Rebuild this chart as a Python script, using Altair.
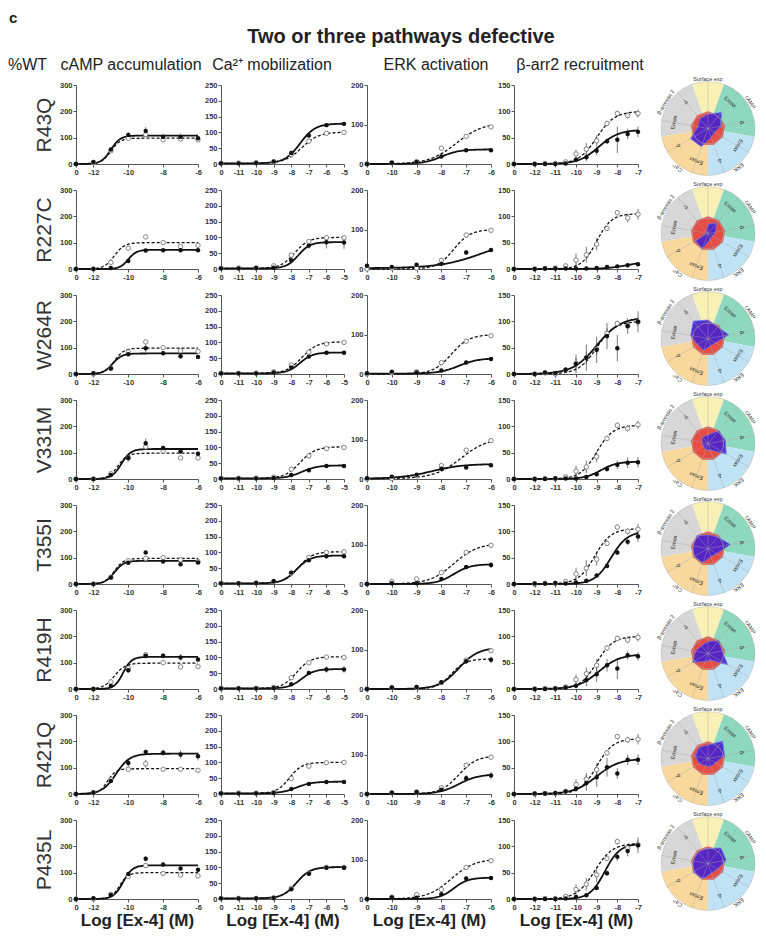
import altair as alt
import pandas as pd

FONT = "Liberation Sans"

MUTANTS = ["R43Q", "R227C", "W264R", "V331M", "T355I", "R419H", "R421Q", "P435L"]
HEADERS = ["cAMP accumulation", "Ca²⁺ mobilization", "ERK activation", "β-arr2 recruitment"]
HEADER_X = [55, 196, 360, 504]

# log[Ex-4] (M); the first value of each list is the vehicle point, labelled "0"
CAMP_X = [-13, -12, -11, -10, -9, -8, -7, -6]
CA_X = [-12, -11, -10, -9, -8, -7, -6, -5]
ERK_X = [-11, -10, -9, -8, -7, -6]
BARR_X = [-13, -12, -11.5, -11, -10.5, -10, -9.5, -9, -8.5, -8, -7.5, -7]

# ---- cAMP accumulation (%WT)
CAMP_WT = [
    [0, 5, 50, 98, 112, 92, 95, 92],
    [0, 0, 25, 79, 122, 100, 85, 90],
    [0, 0, 22, 84, 122, 100, 88, 86],
    [0, 0, 20, 80, 122, 106, 80, 80],
    [0, 0, 25, 88, 97, 100, 92, 85],
    [0, 0, 27, 79, 130, 100, 84, 85],
    [0, 5, 55, 94, 115, 94, 94, 90],
    [0, 0, 18, 86, 127, 97, 91, 88],
]
CAMP_MUT = [
    [0, 8, 55, 110, 125, 103, 103, 98],
    [0, 0, 4, 30, 70, 71, 71, 71],
    [0, 3, 21, 75, 98, 79, 67, 65],
    [0, 0, 15, 80, 136, 118, 105, 96],
    [0, 0, 25, 81, 120, 85, 75, 82],
    [0, 0, 11, 71, 126, 126, 120, 112],
    [0, 6, 49, 118, 160, 157, 150, 143],
    [0, 3, 15, 95, 153, 131, 116, 111],
]
CAMP_WT_ERR = [
    [0, 2, 4, 6, 8, 5, 6, 6], [0, 2, 4, 6, 6, 5, 6, 6], [0, 2, 4, 6, 8, 5, 6, 6],
    [0, 2, 4, 6, 8, 5, 6, 6], [0, 2, 4, 6, 6, 5, 6, 6], [0, 2, 4, 6, 8, 5, 6, 6],
    [0, 2, 4, 6, 15, 5, 6, 6], [0, 2, 4, 6, 8, 5, 6, 6],
]
CAMP_MUT_ERR = [
    [0, 3, 6, 12, 15, 12, 12, 8], [0, 0, 2, 4, 5, 5, 5, 5], [0, 2, 4, 6, 15, 8, 8, 6],
    [0, 0, 5, 15, 18, 8, 10, 8], [0, 0, 4, 5, 5, 5, 6, 5], [0, 0, 4, 10, 10, 10, 12, 8],
    [0, 3, 6, 15, 8, 12, 15, 15], [0, 2, 4, 6, 10, 6, 6, 8],
]
# fitted curves: (bottom, top, logEC50, Hill slope)
CAMP_FIT_WT = [(0, 98, -11.0, 1.6), (0, 100, -10.8, 1.5), (0, 98, -10.8, 1.6), (0, 98, -10.6, 1.6),
               (0, 97, -10.8, 1.6), (0, 98, -10.8, 1.4), (0, 96, -11.2, 1.8), (0, 100, -10.5, 1.8)]
CAMP_FIT_MUT = [(0, 108, -11.0, 1.6), (0, 73, -10.0, 1.8), (0, 78, -10.9, 1.6), (0, 114, -10.4, 1.6),
                (0, 88, -10.8, 1.6), (0, 122, -10.3, 1.8), (0, 153, -10.7, 1.1), (0, 128, -10.3, 1.6)]

# ---- Ca2+ mobilization (%WT)
CA_WT = [
    [2, 3, 4, 6, 30, 72, 97, 100],
    [2, 3, 3, 10, 44, 87, 99, 99],
    [2, 2, 3, 7, 28, 69, 95, 100],
    [2, 2, 3, 6, 31, 73, 96, 100],
    [2, 2, 3, 8, 34, 84, 100, 102],
    [2, 2, 2, 5, 36, 83, 101, 100],
    [2, 3, 3, 5, 49, 88, 99, 100],
    [2, 2, 2, 4, 34, 81, 100, 100],
]
CA_MUT = [
    [2, 2, 3, 8, 35, 90, 123, 127],
    [2, 2, 3, 4, 28, 74, 85, 84],
    [2, 2, 2, 5, 21, 55, 67, 67],
    [2, 2, 2, 3, 13, 28, 41, 41],
    [2, 2, 3, 9, 36, 75, 88, 88],
    [2, 2, 2, 3, 15, 51, 62, 62],
    [2, 2, 2, 3, 16, 32, 38, 38],
    [2, 2, 2, 3, 31, 80, 99, 99],
]
CA_WT_ERR = [
    [0, 0, 0, 2, 6, 8, 4, 4], [0, 0, 0, 2, 6, 6, 4, 4], [0, 0, 0, 2, 5, 6, 4, 4],
    [0, 0, 0, 2, 5, 8, 4, 4], [0, 0, 0, 2, 5, 6, 4, 4], [0, 0, 0, 2, 5, 6, 4, 4],
    [0, 0, 0, 2, 5, 6, 4, 4], [0, 0, 0, 2, 5, 6, 4, 4],
]
CA_MUT_ERR = [
    [0, 0, 0, 2, 8, 5, 5, 5], [0, 0, 0, 2, 6, 10, 20, 20], [0, 0, 0, 2, 4, 5, 4, 4],
    [0, 0, 0, 1, 3, 3, 4, 5], [0, 0, 0, 2, 4, 5, 5, 4], [0, 0, 0, 1, 3, 6, 10, 10],
    [0, 0, 0, 1, 3, 3, 3, 3], [0, 0, 0, 2, 5, 8, 5, 8],
]
CA_FIT_WT = [(2, 101, -7.4, 0.9), (2, 100, -7.8, 1.1), (2, 102, -7.4, 1.0), (2, 102, -7.5, 1.0),
             (2, 102, -7.6, 1.1), (2, 102, -7.7, 1.1), (2, 100, -8.1, 1.2), (2, 101, -7.7, 1.1)]
CA_FIT_MUT = [(2, 128, -7.5, 1.0), (2, 85, -7.6, 1.3), (2, 68, -7.5, 1.2), (2, 43, -7.4, 1.0),
              (2, 90, -7.7, 1.1), (2, 63, -7.4, 1.2), (2, 39, -7.7, 1.0), (2, 101, -7.7, 1.1)]

# ---- ERK activation (%WT)
ERK_WT = [
    [0, 3, 6, 40, 70, 94],
    [0, 2, 2, 22, 86, 98],
    [0, 3, 6, 29, 83, 97],
    [0, 1, 8, 34, 73, 97],
    [0, 6, 13, 29, 80, 98],
    [0, 3, 4, 16, 73, 97],
    [0, 3, 5, 16, 73, 93],
    [0, 5, 11, 24, 80, 97],
]
ERK_MUT = [
    [0, 3, 5, 19, 35, 35],
    [8, 5, 11, 13, 42, 48],
    [2, 6, 4, 9, 29, 38],
    [2, 6, 11, 26, 29, 35],
    [0, 2, 2, 13, 43, 48],
    [0, 4, 5, 17, 70, 74],
    [0, 3, 5, 11, 40, 47],
    [0, 4, 3, 12, 52, 53],
]
ERK_WT_ERR = [
    [0, 1, 2, 4, 4, 3], [0, 1, 2, 3, 4, 3], [0, 1, 2, 3, 4, 3], [0, 1, 2, 4, 4, 3],
    [0, 1, 2, 3, 4, 3], [0, 1, 2, 3, 6, 3], [0, 1, 2, 3, 4, 3], [0, 1, 2, 3, 4, 3],
]
ERK_MUT_ERR = [
    [0, 1, 2, 4, 4, 4], [0, 2, 3, 6, 6, 4], [0, 2, 2, 3, 4, 4], [0, 2, 3, 4, 3, 4],
    [0, 1, 1, 3, 5, 8], [0, 1, 1, 4, 6, 8], [0, 1, 1, 3, 8, 8], [0, 1, 1, 3, 5, 4],
]
ERK_FIT_WT = [(0, 105, -7.4, 0.8), (0, 100, -7.5, 1.3), (0, 100, -7.6, 1.2), (1, 105, -7.2, 0.8),
              (0, 103, -7.5, 0.9), (0, 76, -7.6, 1.5), (0, 97, -7.3, 1.2), (0, 102, -7.6, 0.9)]
ERK_FIT_MUT = [(0, 37, -8.0, 1.2), (2, 80, -6.3, 0.5), (1, 40, -7.3, 1.1), (1, 38, -8.4, 0.7),
               (0, 50, -7.5, 1.3), (0, 105, -7.3, 1.1), (0, 50, -7.3, 1.1), (0, 54, -7.5, 1.5)]

# ---- beta-arrestin 2 recruitment (%WT)
BARR_WT = [
    [0, 0, 1, 1, 4, 19, 28, 44, 77, 96, 92, 96],
    [0, 0, 1, 2, 6, 17, 27, 47, 77, 107, 97, 104],
    [0, 0, 2, 0, 8, 20, 31, 47, 77, 96, 91, 99],
    [0, 0, 1, 1, 4, 15, 23, 42, 77, 102, 96, 103],
    [0, 0, 1, 1, 5, 19, 30, 47, 77, 108, 100, 104],
    [0, 0, 1, 1, 4, 18, 29, 45, 78, 96, 93, 98],
    [0, 0, 1, 1, 5, 18, 28, 46, 78, 109, 103, 104],
    [0, 0, 1, 1, 5, 18, 28, 46, 77, 109, 97, 103],
]
BARR_MUT = [
    [0, 0, 0, 0, 1, 8, 13, 25, 43, 46, 57, 61],
    [0, 0, 1, 1, 1, 1, 1, 2, 4, 5, 7, 9],
    [0, 0, 3, 2, 8, 19, 31, 46, 72, 49, 91, 99],
    [0, 0, 0, 1, 1, 1, 4, 9, 19, 27, 31, 32],
    [0, 1, 1, 2, 1, 3, 6, 16, 34, 60, 80, 90],
    [0, 0, 0, 1, 3, 6, 17, 28, 45, 39, 64, 62],
    [0, 1, 1, 2, 5, 10, 21, 32, 51, 39, 65, 65],
    [0, 0, 0, 0, 1, 4, 7, 21, 49, 80, 91, 102],
]
BARR_WT_ERR = [
    [0, 0, 0, 0, 3, 8, 12, 10, 5, 5, 6, 8], [0, 0, 0, 0, 3, 12, 15, 12, 5, 5, 8, 10],
    [0, 0, 0, 0, 3, 10, 12, 10, 10, 5, 6, 8], [0, 0, 0, 0, 3, 10, 12, 10, 5, 5, 6, 8],
    [0, 0, 0, 0, 3, 12, 15, 12, 5, 5, 6, 10], [0, 0, 0, 0, 3, 10, 12, 12, 5, 5, 6, 8],
    [0, 0, 0, 0, 3, 10, 12, 12, 5, 5, 6, 10], [0, 0, 0, 0, 3, 10, 12, 15, 5, 5, 6, 8],
]
BARR_MUT_ERR = [
    [0, 0, 0, 0, 2, 5, 8, 8, 5, 25, 10, 10], [0, 0, 0, 0, 0, 1, 1, 1, 1, 2, 2, 2],
    [0, 0, 0, 0, 4, 18, 25, 25, 25, 25, 15, 20], [0, 0, 0, 0, 0, 1, 2, 3, 5, 8, 10, 10],
    [0, 0, 0, 0, 0, 1, 2, 3, 4, 5, 6, 10], [0, 0, 0, 0, 2, 5, 12, 15, 12, 20, 8, 8],
    [0, 0, 0, 0, 3, 6, 15, 18, 18, 10, 10, 10], [0, 0, 0, 0, 1, 2, 3, 4, 5, 8, 10, 15],
]
BARR_FIT_WT = [(0, 100, -9.0, 1.0), (0, 105, -9.0, 1.2), (0, 100, -9.0, 1.0), (0, 102, -9.0, 1.1),
               (0, 105, -9.1, 1.1), (0, 100, -9.0, 1.1), (0, 105, -9.0, 1.1), (0, 106, -9.1, 1.0)]
BARR_FIT_MUT = [(0, 65, -8.9, 0.9), (0, 15, -7.5, 0.8), (0, 108, -9.0, 0.75), (0, 33, -8.8, 1.1),
                (0, 100, -8.3, 1.1), (0, 66, -8.9, 0.85), (0, 67, -9.0, 0.8), (0, 105, -8.6, 1.2)]

# ---- radar (relative to WT = 1)
RADAR_ANGLES = [0, 40, 80, 120, 160, 200, 240, 280, 320]
RADAR_WT = [1.0, 1.0, 1.0, 1.0, 1.0, 1.0, 1.0, 1.0, 1.0]
RADAR_MUT = [
    [0.85, 1.25, 0.75, 0.45, 0.55, 1.15, 1.2, 0.6, 0.75],
    [0.55, 0.8, 0.45, 0.3, 0.35, 1.0, 0.85, 0.1, 0.15],
    [1.1, 0.9, 1.25, 0.5, 0.45, 0.75, 0.7, 1.05, 1.35],
    [0.5, 1.0, 1.05, 1.25, 0.4, 0.4, 0.3, 0.35, 0.5],
    [0.8, 0.9, 1.35, 0.6, 0.5, 0.9, 0.95, 0.9, 1.0],
    [0.7, 1.0, 0.85, 1.35, 0.4, 0.5, 1.05, 0.75, 0.6],
    [0.8, 1.35, 1.0, 0.5, 0.5, 0.45, 0.6, 0.75, 0.85],
    [0.9, 1.2, 1.1, 0.65, 0.6, 1.0, 1.0, 0.9, 0.9],
]
RADAR_FULL = 2.8
INNER_ANGLES = [40, 80, 120, 160, 200, 240, 280, 320]
INNER_TEXT = ["Emax", "Δ", "Emax", "Δ", "Emax", "Δ", "Emax", "Δ"]
SECTOR_NAMES = ["Surface exp", "cAMP", "ERK", "Ca²⁺", "β-arrestin 2"]
SECTOR_START = [-20, 20, 100, 180, 260]
SECTOR_END = [20, 100, 180, 260, 340]
SECTOR_COLORS = ["#f9f0b6", "#8fd8c0", "#bfe2f4", "#f8d89d", "#d7d7d7"]
OUTER_ANGLES = [0, 58, 142, 218, 302]
GRID_FRACS = [0.3333, 0.6667]

ASSAYS = [
    dict(x=CAMP_X, wt=CAMP_WT, mut=CAMP_MUT, wte=CAMP_WT_ERR, mute=CAMP_MUT_ERR,
         fwt=CAMP_FIT_WT, fmut=CAMP_FIT_MUT, ymax=300, yticks=[0, 100, 200, 300],
         xticks=[-13, -12, -10, -8, -6], width=122),
    dict(x=CA_X, wt=CA_WT, mut=CA_MUT, wte=CA_WT_ERR, mute=CA_MUT_ERR,
         fwt=CA_FIT_WT, fmut=CA_FIT_MUT, ymax=250, yticks=[0, 50, 100, 150, 200, 250],
         xticks=[-12, -11, -10, -9, -8, -7, -6, -5], width=123),
    dict(x=ERK_X, wt=ERK_WT, mut=ERK_MUT, wte=ERK_WT_ERR, mute=ERK_MUT_ERR,
         fwt=ERK_FIT_WT, fmut=ERK_FIT_MUT, ymax=200, yticks=[0, 100, 200],
         xticks=[-11, -10, -9, -8, -7, -6], width=124),
    dict(x=BARR_X, wt=BARR_WT, mut=BARR_MUT, wte=BARR_WT_ERR, mute=BARR_MUT_ERR,
         fwt=BARR_FIT_WT, fmut=BARR_FIT_MUT, ymax=150, yticks=[0, 50, 100, 150],
         xticks=[-13, -12, -11, -10, -9, -8, -7], width=124),
]

PH = 79          # plot height
RW = 94          # radar width (circle diameter)
RR = RW / 2      # radar radius in pixels
CY = PH / 2 + 4  # radar centre, pixels from the top of its cell

one = pd.DataFrame({"n": [0]})


def label(text, x, y, size, weight="normal", align="left"):
    return (alt.Chart(one)
            .mark_text(text=text, font=FONT, fontSize=size, fontWeight=weight, align=align,
                       baseline="alphabetic", color="#222")
            .encode(x=alt.value(x), y=alt.value(y)))


def header_layers():
    layers = [
        label("c", -67, -62, 15, "bold"),
        label("Two or three pathways defective", 325, -42, 20, "bold", "center"),
        label("%WT", -68, -15, 16),
    ]
    for h, hx in zip(HEADERS, HEADER_X):
        layers.append(label(h, hx, -15, 16, "normal", "center"))
    return layers


def dose_panel(i, a):
    A = ASSAYS[a]
    xv = A["x"]
    n = len(xv)
    df = pd.DataFrame({
        "x": xv + xv,
        "y": A["wt"][i] + A["mut"][i],
        "err": A["wte"][i] + A["mute"][i],
        "s": ["WT"] * n + ["MUT"] * n,
    })
    x0, x1 = xv[0], xv[-1]
    xscale = alt.Scale(domain=[x0, x1], nice=False, zero=False)
    yscale = alt.Scale(domain=[0, A["ymax"]], nice=False, zero=True)
    xaxis = alt.Axis(
        values=A["xticks"],
        labelExpr=f"datum.value == {x0} ? '0' : '-' + format(-datum.value, 'd')",
        title="Log [Ex-4] (M)" if i == len(MUTANTS) - 1 else None,
        titleFontSize=17, titleFontWeight="bold", titlePadding=2, titleColor="#222",
    )
    yaxis = alt.Axis(
        values=A["yticks"],
        title=MUTANTS[i] if a == 0 else None,
        titleFontSize=21, titleFontWeight="normal", titlePadding=5, titleColor="#333",
    )

    def xe(f):
        return alt.X(f"{f}:Q", scale=xscale, axis=xaxis)

    def ye(f):
        return alt.Y(f"{f}:Q", scale=yscale, axis=yaxis)

    base = alt.Chart(df)
    err = (base.transform_filter("datum.err > 0")
           .transform_calculate(lo="max(0, datum.y - datum.err)", hi="datum.y + datum.err")
           .mark_rule(color="#555", strokeWidth=0.8)
           .encode(x=xe("x"), y=ye("lo"), y2="hi:Q"))

    def curve(fit, dashed):
        b, t, ec, h = fit
        expr = f"{b} + ({t} - {b}) / (1 + pow(10, ({ec} - datum.x) * {h}))"
        c = alt.Chart(alt.sequence(x0, x1 + 0.001, 0.05, as_="x")).transform_calculate(yc=expr)
        if dashed:
            m = c.mark_line(color="#111", strokeWidth=1.3, strokeDash=[3, 2])
        else:
            m = c.mark_line(color="#111", strokeWidth=1.8)
        return m.encode(x=xe("x"), y=ye("yc"))

    wt_pts = (base.transform_filter("datum.s == 'WT'")
              .mark_point(shape="circle", filled=True, fill="white", stroke="#777",
                          strokeWidth=0.9, size=20, opacity=1)
              .encode(x=xe("x"), y=ye("y")))
    mut_pts = (base.transform_filter("datum.s == 'MUT'")
               .mark_circle(color="#111", size=20, opacity=1)
               .encode(x=xe("x"), y=ye("y")))
    layers = [err, curve(A["fwt"][i], True), curve(A["fmut"][i], False), wt_pts, mut_pts]
    if i == 0 and a == 0:
        layers += header_layers()
    return alt.layer(*layers).properties(width=A["width"], height=PH)


def radar(i):
    xs = alt.Scale(domain=[-1, 1], nice=False, zero=False)
    ys = alt.Scale(domain=[-(PH - CY) / RR, CY / RR], nice=False, zero=False)
    rs = alt.Scale(type="linear", domain=[0, 1], range=[0, RR], nice=False, zero=True)
    cx_v, cy_v = alt.value(RR), alt.value(CY)

    sect = pd.DataFrame({"name": SECTOR_NAMES, "start": SECTOR_START, "end": SECTOR_END,
                         "color": SECTOR_COLORS})
    sectors = (alt.Chart(sect)
               .transform_calculate(t0="datum.start * PI / 180", t1="datum.end * PI / 180", r="1")
               .mark_arc(strokeWidth=0)
               .encode(theta=alt.Theta("t0:Q", scale=None, stack=None), theta2="t1:Q",
                       radius=alt.Radius("r:Q", scale=rs), x=cx_v, y=cy_v,
                       color=alt.Color("color:N", scale=None)))

    def poly(vals, fill, stroke, op):
        df = pd.DataFrame({"k": list(range(len(vals) + 1)),
                           "a": RADAR_ANGLES + [RADAR_ANGLES[0]],
                           "v": vals + [vals[0]]})
        return (alt.Chart(df)
                .transform_calculate(px=f"datum.v / {RADAR_FULL} * sin(datum.a * PI / 180)",
                                     py=f"datum.v / {RADAR_FULL} * cos(datum.a * PI / 180)")
                .mark_line(filled=True, fill=fill, stroke=stroke, strokeWidth=0.8,
                           fillOpacity=op, interpolate="linear")
                .encode(x=alt.X("px:Q", scale=xs, axis=None), y=alt.Y("py:Q", scale=ys, axis=None),
                        order="k:Q"))

    grid = (alt.Chart(pd.DataFrame({"f": GRID_FRACS}))
            .mark_arc(filled=False, stroke="#a8a8a8", strokeWidth=0.5, opacity=0.8)
            .encode(radius=alt.Radius("f:Q", scale=rs), theta=alt.value(0), theta2=alt.value(6.2832),
                    x=cx_v, y=cy_v))
    spokes = (alt.Chart(pd.DataFrame({"a": RADAR_ANGLES}))
              .transform_calculate(sx="0", sy="0", ex="sin(datum.a * PI / 180)",
                                   ey="cos(datum.a * PI / 180)")
              .mark_rule(color="#a8a8a8", strokeWidth=0.5, opacity=0.8)
              .encode(x=alt.X("sx:Q", scale=xs, axis=None), y=alt.Y("sy:Q", scale=ys, axis=None),
                      x2="ex:Q", y2="ey:Q"))
    inner = (alt.Chart(pd.DataFrame({"a": INNER_ANGLES, "t": INNER_TEXT}))
             .transform_calculate(px="0.74 * sin(datum.a * PI / 180)", py="0.74 * cos(datum.a * PI / 180)")
             .mark_text(font=FONT, fontSize=5.5, color="#333", baseline="middle", align="center")
             .encode(x=alt.X("px:Q", scale=xs, axis=None), y=alt.Y("py:Q", scale=ys, axis=None),
                     text="t:N", angle=alt.Angle("a:Q", scale=None)))
    outer = (alt.Chart(pd.DataFrame({"a": OUTER_ANGLES, "t": SECTOR_NAMES}))
             .transform_calculate(px="1.0 * sin(datum.a * PI / 180)", py="1.0 * cos(datum.a * PI / 180)")
             .mark_text(font=FONT, fontSize=5.5, color="#333", baseline="bottom", align="center")
             .encode(x=alt.X("px:Q", scale=xs, axis=None), y=alt.Y("py:Q", scale=ys, axis=None),
                     text="t:N", angle=alt.Angle("a:Q", scale=None)))
    return alt.layer(
        sectors,
        poly(RADAR_WT, "#e8453c", "#e8453c", 0.95),
        poly(RADAR_MUT[i], "#4a22cf", "#5d6ff2", 0.92),
        grid, spokes, inner, outer,
    ).properties(width=RW, height=PH)


cells = []
for i in range(len(MUTANTS)):
    cells += [dose_panel(i, a) for a in range(4)] + [radar(i)]

chart = (alt.ConcatChart(concat=cells, columns=5, spacing={"row": 26, "column": 23},
                         bounds="flush", align="each",
                         padding={"top": 3, "left": 0, "right": 0, "bottom": 0})
         .configure_view(strokeWidth=0)
         .configure_axis(labelFont=FONT, labelFontWeight="bold", labelFontSize=7.5,
                         labelColor="#333", tickSize=3, tickColor="#555", domainColor="#555",
                         domainWidth=1, tickWidth=1, labelPadding=1, grid=False,
                         labelFlush=False, labelOverlap=False, titleFont=FONT))

chart.save("out.html", embed_options={"renderer": "svg", "actions": False})
